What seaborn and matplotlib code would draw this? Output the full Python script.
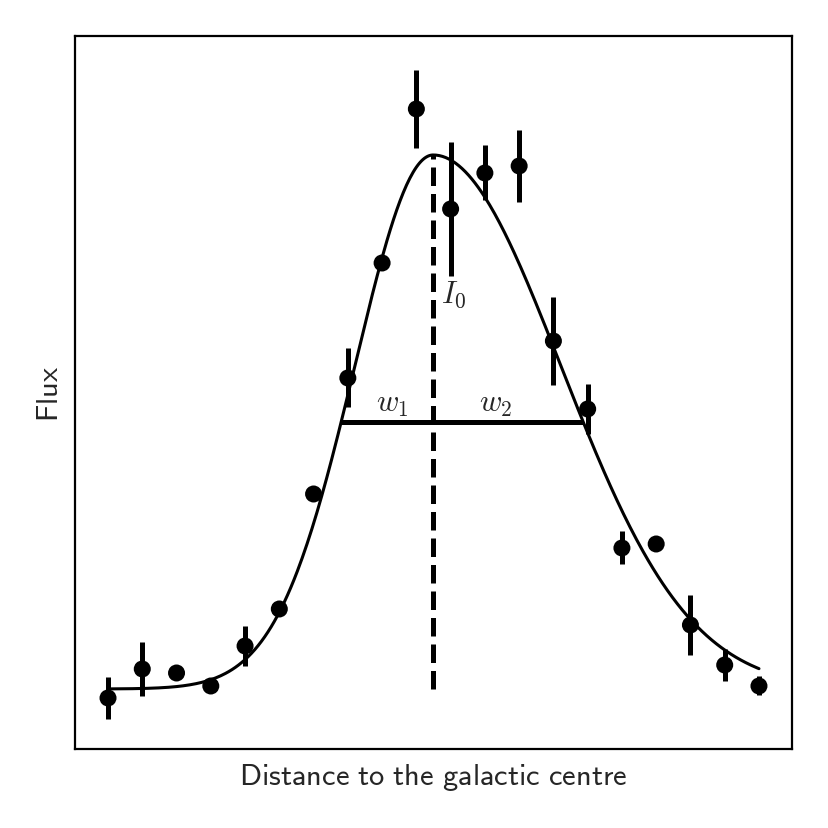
"""
Flux profile across the galactic centre with an asymmetric Gaussian fit,
marking the peak (I_0) and the two half widths (w_1, w_2).
"""

import numpy as np
import pandas as pd
import matplotlib
matplotlib.use("Agg")
import matplotlib.pyplot as plt
import seaborn as sns


# ── Data ──────────────────────────────────────────────────────────────────────

distance = list(range(20))
flux = [1.02, 1.60, 1.52, 1.26, 2.06, 2.80, 5.10, 7.42, 9.72, 12.80,
        10.80, 11.52, 11.66, 8.16, 6.80, 4.02, 4.10, 2.48, 1.68, 1.26]
flux_err = [0.42, 0.54, 0.0, 0.0, 0.40, 0.0, 0.0, 0.59, 0.0, 0.78,
            1.34, 0.55, 0.72, 0.88, 0.50, 0.33, 0.0, 0.60, 0.32, 0.19]

# fitted asymmetric Gaussian parameters
baseline = 1.2
amplitude = 10.68
centre = 9.49
sigma_left = 2.28
sigma_right = 3.72


# ── Model ─────────────────────────────────────────────────────────────────────

def asym_gauss(x):
    """Two-sided Gaussian on a constant baseline."""
    sigma = np.where(x < centre, sigma_left, sigma_right)
    return baseline + amplitude * np.exp(-0.5 * ((x - centre) / sigma) ** 2)


df = pd.DataFrame({"distance": distance, "flux": flux, "err": flux_err})

x_fit = np.linspace(min(distance), max(distance), 400)
fit = pd.DataFrame({"distance": x_fit, "flux": asym_gauss(x_fit)})

hwhm = np.sqrt(2 * np.log(2))
half_max = baseline + amplitude / 2
w1_edge = centre - hwhm * sigma_left
w2_edge = centre + hwhm * sigma_right


# ── Plot ──────────────────────────────────────────────────────────────────────

sns.set_style("white")
plt.rcParams["mathtext.fontset"] = "cm"

fig = plt.figure(figsize=(8.29, 8.29), dpi=100)
ax = fig.add_axes([0.0905, 0.0953, 0.8649, 0.8601])

ax.errorbar(df["distance"], df["flux"], yerr=df["err"], fmt="none",
            ecolor="black", elinewidth=3.6, capsize=0, zorder=2)
sns.scatterplot(data=df, x="distance", y="flux", ax=ax, color="black",
                s=150, edgecolor="none", zorder=3)
sns.lineplot(data=fit, x="distance", y="flux", ax=ax, color="black",
             linewidth=2.2, zorder=2)

ax.plot([centre, centre], [baseline, baseline + amplitude], color="black",
        linestyle="--", linewidth=3.6, zorder=1)
ax.plot([w1_edge, w2_edge], [half_max, half_max], color="black",
        linewidth=3.6, solid_capstyle="butt", zorder=1)

ax.text(8.29, 6.9, r"$w_1$", fontsize=22, ha="center", va="center")
ax.text(11.33, 6.9, r"$w_2$", fontsize=22, ha="center", va="center")
ax.text(9.72, 9.1, r"$I_0$", fontsize=22, ha="left", va="center")

ax.set_xlim(-0.963, 19.965)
ax.set_ylim(0.0, 14.26)
ax.set_xticks([])
ax.set_yticks([])
ax.set_xlabel(r"$\mathsf{Distance\ to\ the\ galactic\ centre}$",
              fontsize=22, labelpad=9)
ax.set_ylabel(r"$\mathsf{Flux}$", fontsize=22, labelpad=8)
for spine in ax.spines.values():
    spine.set_color("black")
    spine.set_linewidth(1.6)

fig.savefig("out.png", dpi=100)
